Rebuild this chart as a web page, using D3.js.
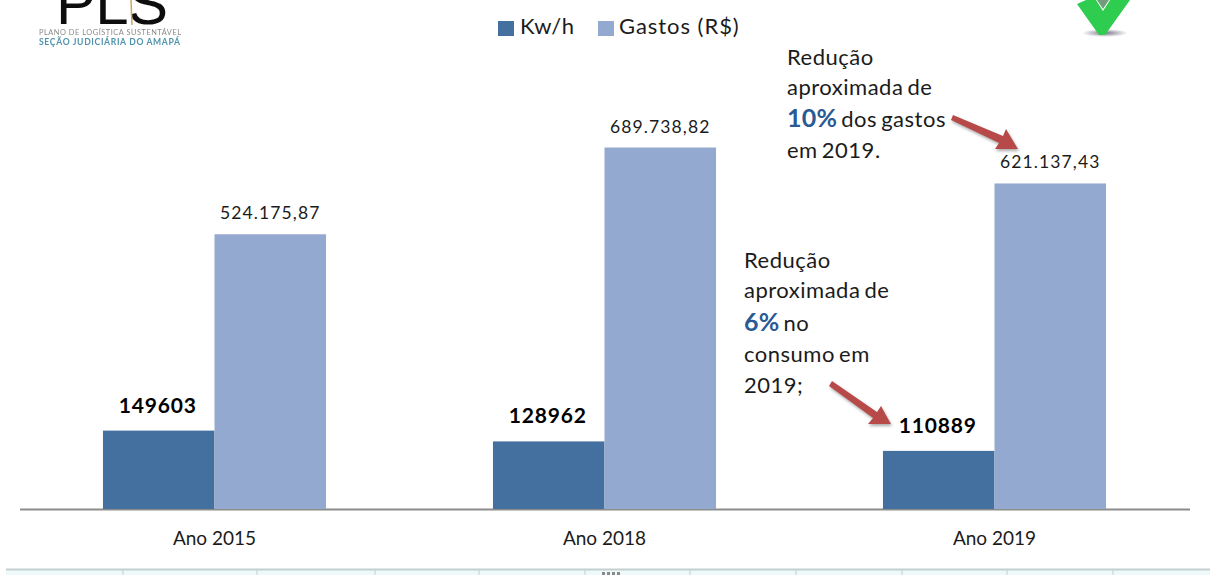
<!DOCTYPE html>
<html>
<head>
<meta charset="utf-8">
<script src="https://cdn.jsdelivr.net/npm/d3@7"></script>
<style>
  html, body { margin: 0; padding: 0; background: #fff; overflow: hidden; }
  text { font-family: Lato, "Open Sans", sans-serif; fill: #1b1b1b; }
  .tick text { font-size: 19px; }
  .val { font-size: 17.5px; letter-spacing: 1.1px; }
  .kw { font-size: 21px; font-weight: 700; fill: #000; letter-spacing: 0.8px; }
  .note { font-size: 22px; letter-spacing: 0.5px; word-spacing: -2px; }
  .pct { font-weight: 700; fill: #2a5a94; font-size: 25px; letter-spacing: 0.2px; }
</style>
</head>
<body>
<div id="content"></div>
<script>
var Width = 1210;
var Height = 575;

var anos = ["Ano 2015", "Ano 2018", "Ano 2019"];
var series = ["Kw/h", "Gastos (R$)"];
var kwh = [149603, 128962, 110889];
var gastos = [524175.87, 689738.82, 621137.43];
var gastosLabels = ["524.175,87", "689.738,82", "621.137,43"];
var cores = ["#44709f", "#94a9d0"];

var svg = d3.select("#content").append("svg")
  .attr("width", Width)
  .attr("height", Height)
  .style("display", "block");

// mesma escala para as duas series
var x0 = d3.scaleBand().domain(anos).range([19.5, 1189.5]).paddingInner(0.428).paddingOuter(0.214);
var x1 = d3.scaleBand().domain(series).range([0, x0.bandwidth()]);
var y = d3.scaleLinear().domain([0, 700000]).range([509, 509 - 700000 / 1908]);

var xAxis = d3.axisBottom(x0).tickSize(0).tickPadding(23);
var gx = svg.append("g")
  .attr("transform", "translate(0,509)")
  .call(xAxis);
gx.select(".domain").attr("stroke", "#8c8c8c").attr("stroke-width", 2);

// barras
var grupos = svg.selectAll(".grupo").data(anos).enter().append("g")
  .attr("class", "grupo")
  .attr("transform", function (d) { return "translate(" + x0(d) + ",0)"; });

grupos.append("rect")
  .attr("x", x1(series[0]))
  .attr("width", x1.bandwidth())
  .attr("y", function (d, i) { return y(kwh[i]); })
  .attr("height", function (d, i) { return y(0) - y(kwh[i]); })
  .attr("fill", cores[0]);

grupos.append("rect")
  .attr("x", x1(series[1]))
  .attr("width", x1.bandwidth())
  .attr("y", function (d, i) { return y(gastos[i]); })
  .attr("height", function (d, i) { return y(0) - y(gastos[i]); })
  .attr("fill", cores[1]);

// rotulos
grupos.append("text")
  .attr("class", "kw")
  .attr("text-anchor", "middle")
  .attr("x", x1(series[0]) + x1.bandwidth() / 2 - 1)
  .attr("y", function (d, i) { return y(kwh[i]) - 18; })
  .text(function (d, i) { return kwh[i]; });

grupos.append("text")
  .attr("class", "val")
  .attr("text-anchor", "middle")
  .attr("x", x1(series[1]) + x1.bandwidth() / 2)
  .attr("y", function (d, i) { return y(gastos[i]) - 15; })
  .text(function (d, i) { return gastosLabels[i]; });

// legenda
var legX = [498, 598];
var legEsp = ["0.45px", "0.95px"];
series.forEach(function (s, i) {
  svg.append("rect").attr("x", legX[i]).attr("y", 21).attr("width", 16).attr("height", 15).attr("fill", cores[i]);
  svg.append("text").attr("x", legX[i] + (i ? 21 : 22)).attr("y", 34)
    .style("font-size", "22px").style("letter-spacing", legEsp[i]).text(s);
});

// anotacoes
function nota(xp, linhas) {
  linhas.forEach(function (l) {
    var t = svg.append("text").attr("class", "note").attr("x", xp).attr("y", l.y);
    if (l.pct) t.append("tspan").attr("class", "pct").text(l.pct);
    t.append("tspan").text(l.txt);
  });
}
nota(787, [
  { y: 65, txt: "Redução" },
  { y: 95, txt: "aproximada de" },
  { y: 127, pct: "10%", txt: " dos gastos" },
  { y: 158, txt: "em 2019." }
]);
nota(744, [
  { y: 268, txt: "Redução" },
  { y: 298, txt: "aproximada de" },
  { y: 331, pct: "6%", txt: " no" },
  { y: 362, txt: "consumo em" },
  { y: 393, txt: "2019;" }
]);

// setas
var defs = svg.append("defs");
defs.append("filter").attr("id", "sombra").append("feDropShadow")
  .attr("dx", 1).attr("dy", 2).attr("stdDeviation", 1.5).attr("flood-color", "#aaa");
defs.append("filter").attr("id", "blur").append("feGaussianBlur").attr("stdDeviation", 0.7);
var sombraCheck = defs.append("radialGradient").attr("id", "sombraCheck");
sombraCheck.append("stop").attr("offset", "0%").attr("stop-color", "#77778a");
sombraCheck.append("stop").attr("offset", "100%").attr("stop-color", "#ffffff");
var setaPaths = [
  "M953,115 L1003,136 L1006,129 L1018,149 L995,149 L999,143 L951,120 Z",
  "M832,381 L877,412 L881,406 L891,424 L868,424 L873,418 L829,386 Z"
];
svg.selectAll(".seta").data(setaPaths).enter().append("path")
  .attr("class", "seta")
  .attr("d", function (d) { return d; })
  .attr("fill", "#b84a48")
  .attr("filter", "url(#sombra)");

// logo PLS
var logo = svg.append("g").attr("filter", "url(#blur)");
logo.append("text").attr("x", 56).attr("y", 24)
  .style("font-size", "60px").style("font-family", "'Liberation Sans'").style("fill", "#111")
  .attr("textLength", 112).text("PLS");
logo.append("line").attr("x1", 131).attr("x2", 132).attr("y1", 0).attr("y2", 25)
  .attr("stroke", "#c9a860").attr("stroke-width", 1.5);
logo.append("text").attr("x", 39).attr("y", 35)
  .style("font-size", "7.4px").style("fill", "#8a8a8a")
  .attr("textLength", 142).text("PLANO DE LOGÍSTICA SUSTENTÁVEL");
logo.append("text").attr("x", 39).attr("y", 45)
  .style("font-size", "8.6px").style("fill", "#4f93ad").style("font-weight", 700)
  .attr("textLength", 141).text("SEÇÃO JUDICIÁRIA DO AMAPÁ");

// check verde
svg.append("ellipse").attr("cx", 1105).attr("cy", 33).attr("rx", 23).attr("ry", 4)
  .attr("fill", "url(#sombraCheck)");
svg.append("path")
  .attr("d", "M1077,4 L1086,0 L1096,0 L1103,11 L1110,0 L1130,0 L1105,35 L1099,35 Z")
  .attr("fill", "#2ecc4f").attr("filter", "url(#blur)");
svg.append("path")
  .attr("d", "M1097,0 L1103,9 L1109,0 Z")
  .attr("fill", "#6f9c7c").attr("filter", "url(#blur)");

// faixa inferior
svg.append("rect").attr("x", 6).attr("y", 570).attr("width", Width - 6).attr("height", 5).attr("fill", "#eefafa");
svg.append("rect").attr("x", 6).attr("y", 568.5).attr("width", Width - 6).attr("height", 2).attr("fill", "#c4cfcf");
var divisorias = [123, 257, 375, 479, 585, 690, 796, 902, 1007, 1113];
svg.selectAll(".div").data(divisorias).enter().append("line")
  .attr("x1", function (d) { return d; }).attr("x2", function (d) { return d; })
  .attr("y1", 570).attr("y2", 575).attr("stroke", "#c4cfcf");
var pontosGrip = [602, 607, 612, 617];
svg.selectAll(".grip").data(pontosGrip).enter().append("rect")
  .attr("x", function (d) { return d; })
  .attr("y", 572).attr("width", 3).attr("height", 3).attr("fill", "#8a8a8a");
</script>
</body>
</html>
